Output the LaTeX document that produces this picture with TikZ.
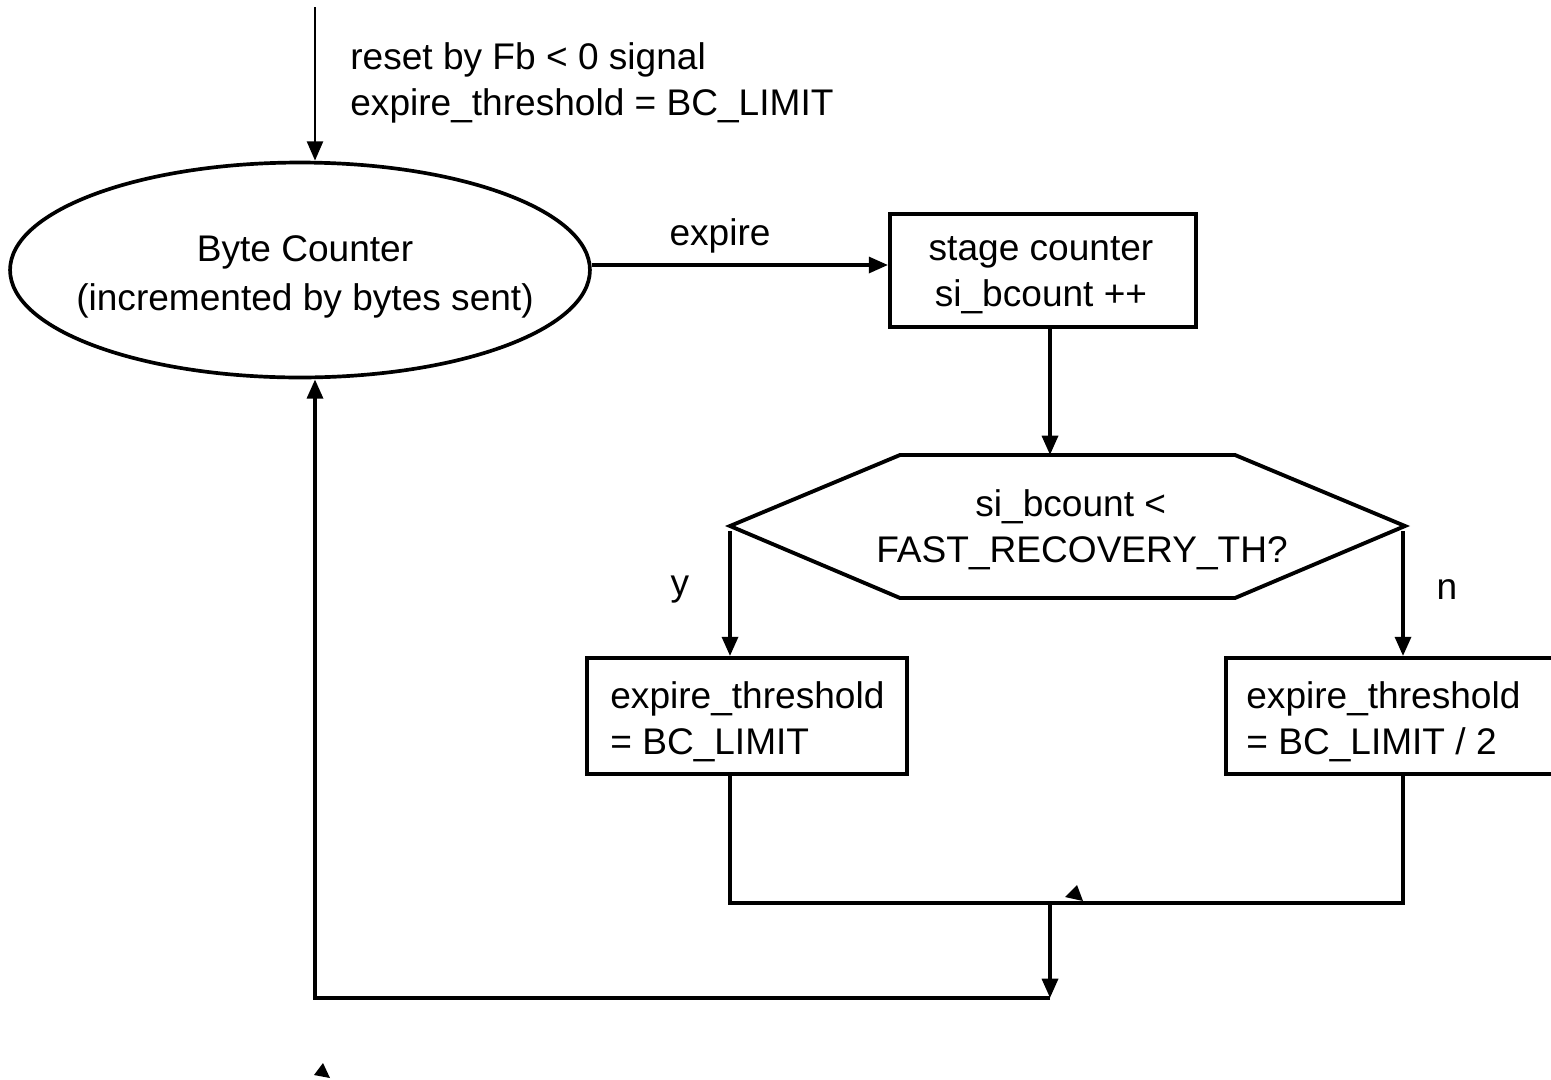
\documentclass[tikz,border=0pt]{standalone}
\usepackage{fontspec}
\setmainfont{Liberation Sans}
\usetikzlibrary{arrows.meta,shapes.geometric}
\begin{document}
\begin{tikzpicture}[x=0.02cm,y=-0.02cm,
  every node/.style={font=\fontsize{21.1}{26}\selectfont},
  line/.style={line width=2.2pt},
  flow/.style={line, -{Triangle[length=11pt,width=9pt]}},
  thinflow/.style={line width=1.7pt, -{Triangle[length=11pt,width=9pt]}},
  procbox/.style={draw, rectangle, line width=2.2pt, minimum height=2.32cm, inner sep=0pt},
  lbl/.style={inner sep=0pt}]
\useasboundingbox (0,0) rectangle (1551,1079);
\clip (0,0) rectangle (1551,1079);

% byte counter
\node[draw, ellipse, line width=2.1pt, minimum width=11.6cm, minimum height=4.3cm,
      inner sep=0pt] (bc) at (300,270) {};
\node[lbl, align=center, font=\fontsize{21.1}{27.5}\selectfont] (bct) at (305,277)
      {Byte Counter\\(incremented by bytes sent)};

% reset input
\coordinate (src) at (315,7);
\draw[thinflow] (src) -- (src |- bc.north);
\node[lbl, anchor=west, align=left] (rst) at (350,83)
      {reset by Fb < 0 signal\\expire\_threshold = BC\_LIMIT};

% stage counter
\node[procbox, minimum width=6.12cm, minimum height=2.26cm] (sc) at (1043,270.5) {};
\node[lbl, align=center] (sct) at (1041,275) {stage counter\\si\_bcount ++};
\coordinate (ex) at ([yshift=0.1cm]bc.east);
\draw[flow] (ex) -- (ex -| sc.west);
\node[lbl] (exp) at (720,236) {expire};

% decision
\coordinate (hl)  at (730,526);
\coordinate (htl) at (900,455);
\coordinate (htr) at (1235,455);
\coordinate (hr)  at (1405,526);
\coordinate (hbr) at (1235,598);
\coordinate (hbl) at (900,598);
\draw[line width=2.2pt, line join=miter] (hl) -- (htl) -- (htr) -- (hr) -- (hbr) -- (hbl) -- cycle;
\node[lbl, align=center] (dq) at (1082,530)
      {si\_bcount <\rule{0.45cm}{0pt}\\FAST\_RECOVERY\_TH?};
\coordinate (dtop) at (1050,455);
\draw[flow] (sc.south -| dtop) -- (dtop);

% branches
\node[procbox, minimum width=6.4cm] (yb) at (747,716) {};
\node[lbl, anchor=west, align=left] (ybt) at (610,722) {expire\_threshold\\= BC\_LIMIT};
\node[procbox, minimum width=6.88cm] (nb) at (1398,716) {};
\node[lbl, anchor=west, align=left] (nbt) at (1246,722) {expire\_threshold\\= BC\_LIMIT / 2};
\coordinate (yo) at (730,531);
\coordinate (no) at (1403,531);
\draw[flow] (yo) -- (yo |- yb.north);
\draw[flow] (no) -- (no |- nb.north);
\node[lbl] (ylab) at (680,590) {y};
\node[lbl] (nlab) at (1447,590) {n};

% merge and return
\coordinate (m) at (1050,903);
\coordinate (j) at (1050,998);
\coordinate (c) at (315,998);
\draw[line, line join=miter] (yb.south -| yo) -- (yo |- m) -- (no |- m) -- (nb.south -| no);
\fill (1065,897) -- (1077,885) -- (1083,901) -- cycle;
\draw[flow] (m) -- (j);
\draw[flow, line join=miter] (j) -- (c) -- (c |- bc.south);
\fill (323,1063) -- (314,1075) -- (330,1078) -- cycle;
\end{tikzpicture}
\end{document}
